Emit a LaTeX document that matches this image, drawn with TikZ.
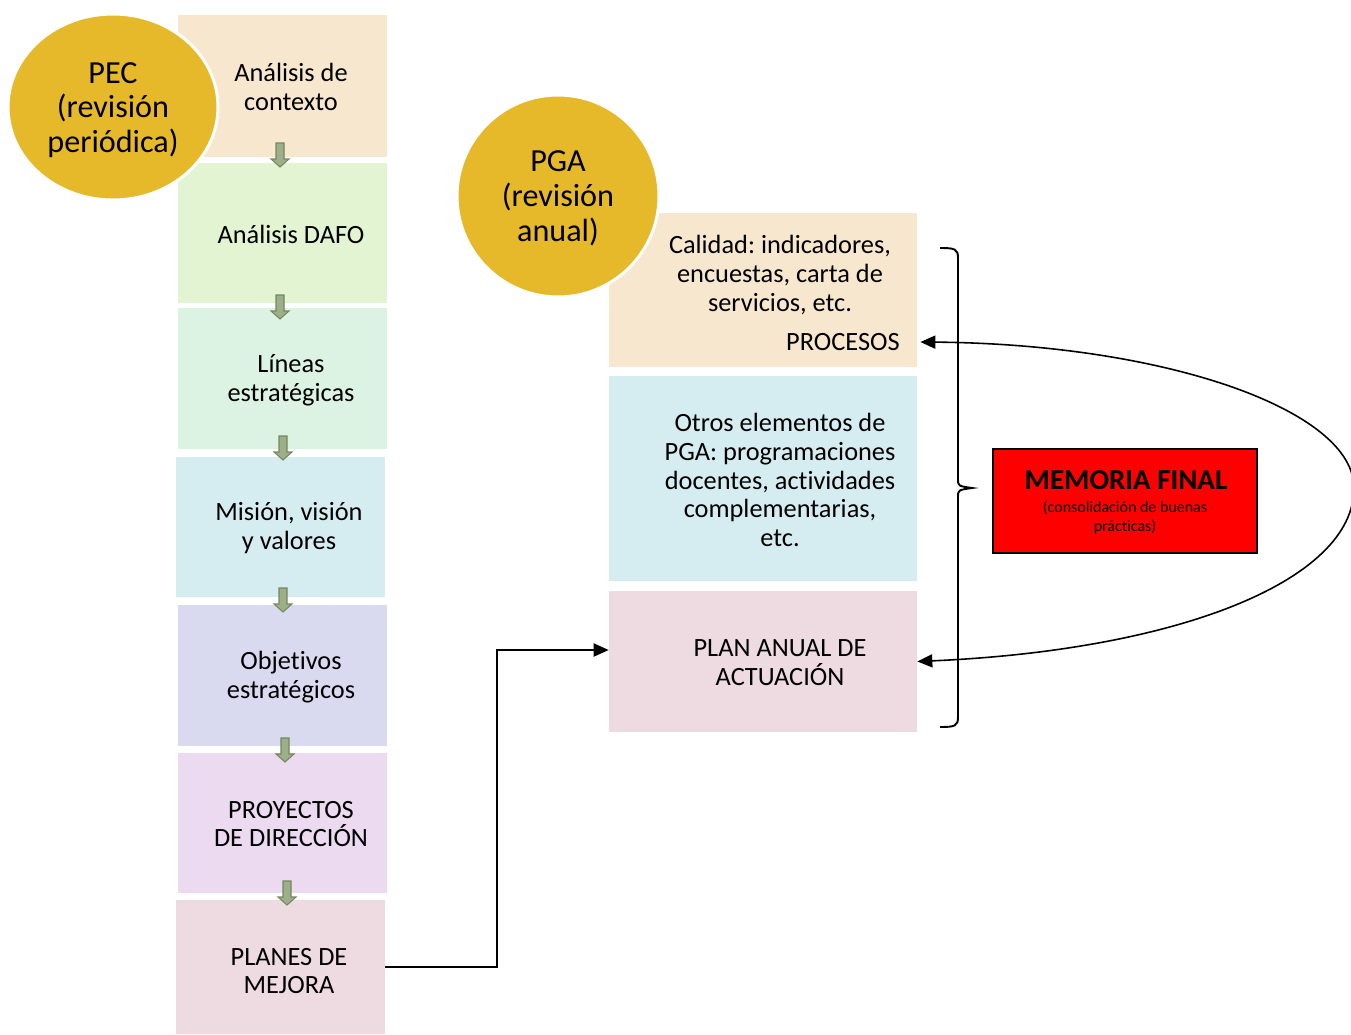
\documentclass[tikz,border=0pt]{standalone}
\usepackage{fontspec}
\setmainfont{Carlito}[Ligatures=NoCommon]
\frenchspacing
\usetikzlibrary{arrows.meta,shapes.geometric,calc}

\definecolor{ctxcol}{HTML}{F7E7CE}
\definecolor{dafocol}{HTML}{E3F4D3}
\definecolor{lineacol}{HTML}{DCF3E3}
\definecolor{misioncol}{HTML}{D5EDF1}
\definecolor{objcol}{HTML}{D9DAF0}
\definecolor{proycol}{HTML}{EBDAF0}
\definecolor{mejoracol}{HTML}{EEDBE2}
\definecolor{gold}{HTML}{E6B92A}
\definecolor{arrowfill}{HTML}{9CAF88}
\definecolor{arrowline}{HTML}{76875F}

\begin{document}
\begin{tikzpicture}[x=0.02cm,y=-0.02cm,
  stagebox/.style={rectangle,inner sep=0pt,minimum width=4.18cm},
  planbox/.style={rectangle,inner sep=0pt,minimum width=6.16cm},
  boxtext/.style={align=center,inner sep=0pt,font=\fontsize{15}{16.4}\selectfont},
  ring/.style={fill=gold,draw=white,line width=1.7pt,align=center,inner sep=0pt,font=\fontsize{18.3}{19.8}\selectfont},
  stepdown/.style={fill=arrowfill,draw=arrowline,line width=0.6pt},
  headtip/.tip={Triangle[length=0.3cm,width=0.26cm]},
  conn/.style={line width=1.1pt,-{headtip}}]
\useasboundingbox (0,0) rectangle (1351,1034);
\clip (0,0) rectangle (1351,1034);

% PEC column
\node[stagebox,fill=ctxcol,minimum height=2.84cm] (ctx) at (282.5,86) {};
\node[stagebox,fill=dafocol,minimum height=2.8cm] (dafo) at (282.5,233) {};
\node[stagebox,fill=lineacol,minimum height=2.82cm] (lineas) at (282.5,378.5) {};
\node[stagebox,fill=misioncol,minimum height=2.8cm] (mision) at (280.5,527) {};
\node[stagebox,fill=objcol,minimum height=2.82cm] (objetivos) at (282.5,675.5) {};
\node[stagebox,fill=proycol,minimum height=2.8cm] (proyectos) at (282.5,823) {};
\node[stagebox,fill=mejoracol,minimum height=2.68cm] (mejora) at (280.5,967) {};

\node[boxtext] (ctxtxt) at (291,87) {Análisis de\\contexto};
\node[boxtext] (dafotxt) at (291,234) {Análisis DAFO};
\node[boxtext] (lineastxt) at (291,380) {Líneas\\estratégicas};
\node[boxtext] (misiontxt) at (289,528) {Misión, visión\\y valores};
\node[boxtext] (objtxt) at (291,677) {Objetivos\\estratégicos};
\node[boxtext] (proytxt) at (291,824) {PROYECTOS\\DE DIRECCIÓN};
\node[boxtext] (mejoratxt) at (289,971) {PLANES DE\\MEJORA};

% small arrows between the stages
\foreach \ax/\ay in {280/143,280/295,283/436,283/588,285/738,287/881}
  \filldraw[stepdown] (\ax-4,\ay) -- (\ax+4,\ay) -- (\ax+4,\ay+16) -- (\ax+9,\ay+16)
    -- (\ax,\ay+24) -- (\ax-9,\ay+16) -- (\ax-4,\ay+16) -- cycle;

\node[ring,shape=ellipse,minimum width=4.2cm,minimum height=3.72cm] (pec) at (113,107) {};
\node[ring,draw=none,fill=none] (pectxt) at (113,110) {PEC\\(revisión\\periódica)};

% PGA column
\node[planbox,fill=ctxcol,minimum height=3.08cm] (cal) at (763,290) {};
\node[planbox,fill=misioncol,minimum height=4.1cm] (otros) at (763,478.5) {};
\node[planbox,fill=mejoracol,minimum height=2.82cm] (plan) at (763,661.5) {};

\node[boxtext] (caltxt) at (780,275) {Calidad: indicadores,\\encuestas, carta de\\servicios, etc.};
\node[boxtext,anchor=east] (proc) at (900,342) {PROCESOS};
\node[boxtext] (otrostxt) at (780,480) {Otros elementos de\\PGA: programaciones\\docentes, actividades\\complementarias,\\etc.};
\node[boxtext] (plantxt) at (780,663) {PLAN ANUAL DE\\ACTUACIÓN};

\node[ring,shape=circle,minimum size=4.04cm] (pga) at (558,196) {};
\node[ring,draw=none,fill=none] (pgatxt) at (558,198.5) {PGA\\(revisión\\anual)};

% brace
\draw[line width=1.1pt] (940,248) .. controls (955,248) and (958,249) .. (958,258) -- (958,479)
  .. controls (958,486) .. (972,488) .. controls (958,490) .. (958,497) -- (958,717)
  .. controls (958,726) and (955,727) .. (940,727);

\node[draw=black,fill=red,line width=1.4pt,inner sep=0pt,minimum width=5.28cm,minimum height=2.08cm] (memoria) at (1125,501) {};
\node[inner sep=0pt,font=\bfseries\fontsize{16.5}{18}\selectfont] (memtit) at (1126,480) {MEMORIA FINAL};
\node[align=center,inner sep=0pt,font=\fontsize{9.1}{10.8}\selectfont] (memnote) at (1125,517) {(consolidación de buenas\\prácticas)};

% connectors
\coordinate (procin) at ($(cal.east |- proc)+(3,0)$);
\coordinate (planin) at ($(plan.west)+(0,-11.5)$);
\draw[conn] (mejora.east) -- ++(112,0) |- (planin);
\draw[line width=0.9pt,{headtip}-{headtip}] (procin) .. controls (1165,344) and (1354,410) .. (1354,488)
  .. controls (1354,580) and (1180,650) .. (plan.east);
\end{tikzpicture}
\end{document}
